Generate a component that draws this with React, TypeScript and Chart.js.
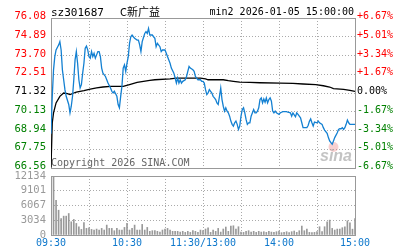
import React, { useEffect, useRef } from 'react';
import { Chart, registerables } from 'chart.js';
Chart.register(...registerables);

// ---- text ----
const stockCode = 'sz301687';
const stockName = 'C新广益';
const chartInfo = 'min2 2026-01-05 15:00:00';
const copyright = 'Copyright 2026 SINA.COM';
const logoText = 'sina';

// ---- axes ----
const prevClose = 71.32;
const priceMin = 66.56;
const priceMax = 76.08;
const priceTicks = [66.56, 67.75, 68.94, 70.13, 71.32, 72.51, 73.7, 74.89, 76.08];
const pctLabels = ['-6.67%', '-5.01%', '-3.34%', '-1.67%', '0.00%', '+1.67%', '+3.34%', '+5.01%', '+6.67%'];
const volTicks = [0, 3034, 6067, 9101, 12134];
const volMax = 12134;
const timeTickMinutes = [0, 30, 60, 90, 120, 150, 180, 210, 240];
const timeLabels = ['09:30', '', '10:30', '', '11:30/13:00', '', '14:00', '', '15:00'];

// ---- price series (minute offset from 09:30, price) ----
const priceMinutes = [
  0, 1, 2, 3, 4, 6, 7, 8, 9, 10, 11, 12, 14, 15, 16, 17, 18, 19, 20, 21, 22, 23, 24, 25, 26, 27, 28, 29, 30,
  31, 32, 33, 34, 35, 36, 37, 38, 39, 40, 41, 43, 44, 45, 47, 48, 49, 50, 52, 53, 54, 55, 56, 57, 58, 59, 60,
  61, 62, 63, 64, 65, 66, 68, 69, 70, 71, 72, 74, 75, 76, 77, 78, 80, 81, 82, 83, 84, 86, 87, 88, 90, 91, 93,
  94, 95, 97, 98, 99, 100, 101, 102, 103, 104, 106, 107, 108, 109, 110, 112, 113, 114, 115, 116, 118, 119, 120,
  121, 122, 123, 124, 125, 127, 128, 129, 130, 131, 132, 133, 134, 135, 136, 137, 138, 139, 140, 141, 142, 143,
  144, 145, 146, 147, 148, 149, 150, 151, 152, 153, 154, 155, 156, 157, 158, 160, 161, 162, 163, 164, 165, 166,
  167, 168, 169, 170, 171, 172, 173, 174, 175, 176, 177, 178, 180, 181, 182, 183, 185, 186, 187, 189, 190, 191,
  193, 194, 195, 197, 198, 199, 200, 202, 203, 204, 205, 206, 207, 208, 210, 211, 212, 214, 215, 216, 218, 219,
  220, 221, 222, 223, 224, 226, 227, 228, 229, 230, 231, 232, 233, 234, 235, 236, 237, 239, 240,
];
const prices = [
  68.74, 71.11, 72.79, 73.63, 74.05, 74.36, 74.58, 74.05, 72.79, 72.16, 71.53, 71.11, 70.59, 70.06, 70.48, 71.11,
  72.16, 73.42, 73.95, 73.21, 72.16, 71.64, 71.85, 72.58, 73.21, 74.16, 74.3, 74.05, 73.63,
  73.53, 73.95, 73.63, 73.84, 73.53, 73.74, 73.95, 73.95, 73.63, 72.9, 72.58, 72.37, 72.16, 71.95, 71.64, 71.43,
  71.32, 71.43, 71.11, 70.59, 70.38, 71.11, 71.74, 72.9, 73.11, 72.69, 73.21,
  73.63, 74.47, 74.89, 75.0, 74.89, 74.79, 74.68, 74.68, 74.37, 73.95, 74.58, 75.1, 75.21, 75.1, 75.42, 75.0,
  75.0, 74.89, 74.79, 74.26, 74.47, 74.26, 73.95, 74.05, 74.05, 73.84, 73.42,
  73.21, 72.9, 72.58, 72.27, 71.95, 72.27, 71.95, 72.16, 71.95, 72.06, 72.16, 72.37, 72.69, 73.0, 72.9, 72.79,
  72.69, 72.37, 72.27, 72.16, 72.16, 72.06, 72.06,
  71.95, 71.53, 71.22, 71.32, 71.53, 71.32, 71.11, 71.01, 70.9, 70.69, 70.59, 71.11, 71.64, 70.9, 70.48, 70.17,
  70.38, 70.17, 70.06, 69.85, 69.54, 69.33,
  69.22, 69.43, 69.54, 69.33, 69.01, 69.22, 69.85, 70.27, 70.38, 70.06, 69.64, 69.33, 69.43, 69.43, 69.85, 70.27,
  70.06, 70.06, 70.17, 70.38, 70.9, 71.01,
  70.69, 70.94, 70.73, 71.01, 70.69, 70.9, 71.01, 70.8, 70.17, 70.06, 70.17, 70.06, 69.96, 70.06, 70.1, 70.14,
  70.14, 70.14, 70.1, 70.06, 69.85, 70.06,
  69.81, 70.06, 69.96, 69.75, 69.43, 69.12, 69.12, 69.12, 69.26, 69.52, 69.68, 69.43, 69.22, 69.47, 69.43, 69.54,
  69.43, 69.33, 69.12, 68.97, 68.76, 68.49,
  68.28, 68.17, 68.07, 68.28, 68.49, 68.8, 69.01, 69.05, 69.05, 69.12, 69.01, 69.12, 69.33, 69.6, 69.43, 69.33,
  69.33, 69.33, 69.33,
];

// ---- average price series ----
const avgMinutes = [
  0, 1, 2, 4, 7, 10, 13, 15, 18, 20, 26, 31, 36, 41, 47, 52, 57, 62, 68, 73, 78, 82, 94, 99, 118, 122, 124, 136,
  140, 144, 149, 157, 165, 181, 191, 199, 209, 215, 220, 223, 231, 236, 240,
];
const avgPrices = [
  66.6, 69.43, 70.06, 70.69, 71.11, 71.32, 71.28, 71.22, 71.32, 71.38, 71.47, 71.57, 71.64, 71.7, 71.74, 71.74,
  71.74, 71.85, 71.99, 72.06, 72.12, 72.16, 72.22, 72.27, 72.27, 72.22, 72.16, 72.16,
  72.1, 72.06, 72.01, 71.99, 71.97, 71.95, 71.93, 71.89, 71.85, 71.78, 71.7, 71.6, 71.55, 71.49, 71.42,
];

// ---- volume (one bar per 2 minutes) ----
const volumes = [
  10500, 12134, 7140, 5100, 3400, 3880, 3880, 4420, 2720, 3200, 2380, 1700, 1150, 2580, 1360, 1500, 1150, 1020,
  1220, 1020, 1360, 1020, 2040, 1360, 1360, 880, 1360, 1020, 1020, 1560, 2380, 1020, 1360, 2040, 1020, 1020,
  2180, 1020, 1560, 750, 890, 890, 750, 600, 1020, 1230, 1360, 1020, 750, 750, 750, 600, 750, 540, 750, 540,
  890, 750, 540, 1020, 890, 1230, 1500, 540, 1020, 750, 1360, 600, 1230, 1640, 750, 1850, 1900, 1230, 1700,
  600, 540, 750, 890, 600, 750, 540, 750, 600, 680, 540, 750, 600, 540, 680, 820, 480, 540, 680, 480, 680, 820,
  540, 880, 1840, 880, 1220, 540, 480, 540, 680, 1700, 680, 1700, 2720, 3060, 1360, 1020, 1220, 1220, 1500,
  1700, 2920, 2520, 1200, 3400,
];
const volumeMinutes = volumes.map((_, i) => i * 2);

// ---- styles ----
const MONO = 'DejaVu Sans Mono';
const GRID = '#aaaaaa';
const FRAME = '#999999';
const RED = '#ff0000';
const GREEN = '#008000';
const BLUE_LINE = '#1380d2';
const TIME_BLUE = '#0e78cc';
const VOL_GRAY = '#999999';

const colorFor = (v: number) =>
  Math.abs(v - prevClose) < 1e-6 ? '#000000' : v > prevClose ? RED : GREEN;

const framePlugin = {
  id: 'frame',
  beforeDatasetsDraw(chart: any) {
    const { ctx, chartArea: a } = chart;
    ctx.save();
    ctx.strokeStyle = FRAME;
    ctx.lineWidth = 1;
    ctx.strokeRect(a.left + 0.5, a.top + 0.5, a.right - a.left, a.bottom - a.top);
    ctx.restore();
  },
};

const decorPlugin = {
  id: 'decor',
  beforeDatasetsDraw(chart: any) {
    const { ctx, chartArea: a } = chart;
    ctx.save();
    ctx.font = `10px "${MONO}"`;
    ctx.fillStyle = '#666666';
    ctx.textAlign = 'left';
    ctx.textBaseline = 'alphabetic';
    ctx.fillText(copyright, a.left, a.bottom - 2);
    ctx.fillStyle = 'rgba(235,120,120,0.35)';
    ctx.beginPath();
    ctx.arc(a.right - 21.5, a.bottom - 21, 5, 0, Math.PI * 2);
    ctx.fill();
    ctx.font = 'italic bold 16px "Liberation Sans"';
    ctx.fillStyle = 'rgba(170,170,170,0.7)';
    ctx.fillText(logoText, a.right - 35, a.bottom - 7);
    ctx.restore();
  },
  afterDraw(chart: any) {
    const { ctx, chartArea: a } = chart;
    ctx.save();
    ctx.fillStyle = '#000000';
    ctx.textBaseline = 'alphabetic';
    ctx.textAlign = 'left';
    ctx.font = `11px "${MONO}"`;
    ctx.fillText(stockCode, a.left, a.top - 2);
    ctx.font = '11px "Noto Sans CJK SC"';
    ctx.fillText(stockName, a.left + 69, a.top - 2);
    ctx.textAlign = 'right';
    ctx.font = `10px "${MONO}"`;
    ctx.fillText(chartInfo, a.right - 1, a.top - 3);
    ctx.restore();
  },
};

export default function App() {
  const mainRef = useRef<HTMLCanvasElement>(null);
  const volRef = useRef<HTMLCanvasElement>(null);

  useEffect(() => {
    const priceTickObjs = () => priceTicks.map((v) => ({ value: v }));
    const timeTickObjs = () => timeTickMinutes.map((v) => ({ value: v }));

    const main = new Chart(mainRef.current as HTMLCanvasElement, {
      type: 'line',
      data: {
        datasets: [
          {
            data: priceMinutes.map((m, i) => ({ x: m, y: prices[i] })),
            borderColor: BLUE_LINE,
            borderWidth: 1.3,
            pointRadius: 0,
            tension: 0,
            fill: false,
          },
          {
            data: avgMinutes.map((m, i) => ({ x: m, y: avgPrices[i] })),
            borderColor: '#000000',
            borderWidth: 1.3,
            pointRadius: 0,
            tension: 0,
            fill: false,
          },
        ],
      },
      options: {
        animation: false,
        responsive: false,
        devicePixelRatio: 1,
        layout: { padding: { top: 18, bottom: 11, left: 0, right: 0 } },
        plugins: { legend: { display: false }, tooltip: { enabled: false }, title: { display: false } },
        scales: {
          x: {
            type: 'linear',
            min: 0,
            max: 240,
            afterBuildTicks: (s: any) => {
              s.ticks = timeTickObjs();
            },
            ticks: { display: false },
            grid: { color: GRID, drawTicks: false, lineWidth: 1 },
            border: { display: false, dash: [1, 2] },
            afterFit: (s: any) => {
              s.height = 0;
            },
          },
          y: {
            position: 'left',
            min: priceMin,
            max: priceMax,
            afterBuildTicks: (s: any) => {
              s.ticks = priceTickObjs();
            },
            ticks: {
              autoSkip: false,
              font: { family: MONO, size: 10.5, lineHeight: 1 },
              padding: 5,
              labelOffset: -1.5,
              color: (c: any) => colorFor(c.tick ? c.tick.value : prevClose),
              callback: (v: any) => Number(v).toFixed(2),
            },
            grid: { color: GRID, drawTicks: false, lineWidth: 1 },
            border: { display: false, dash: [1, 2] },
            afterFit: (s: any) => {
              s.width = 51;
            },
          },
          yR: {
            position: 'right',
            min: priceMin,
            max: priceMax,
            afterBuildTicks: (s: any) => {
              s.ticks = priceTickObjs();
            },
            ticks: {
              autoSkip: false,
              font: { family: MONO, size: 10, lineHeight: 1 },
              padding: 2,
              labelOffset: -1.5,
              color: (c: any) => colorFor(c.tick ? c.tick.value : prevClose),
              callback: (_v: any, i: number) => pctLabels[i],
            },
            grid: { display: false, drawTicks: false },
            border: { display: false },
            afterFit: (s: any) => {
              s.width = 52;
            },
          },
        },
      },
      plugins: [framePlugin, decorPlugin],
    } as any);

    const vol = new Chart(volRef.current as HTMLCanvasElement, {
      type: 'bar',
      data: {
        datasets: [
          {
            data: volumes.map((v, i) => ({ x: volumeMinutes[i], y: v })),
            backgroundColor: VOL_GRAY,
            borderWidth: 0,
            barThickness: 1,
            grouped: false,
          },
        ],
      },
      options: {
        animation: false,
        responsive: false,
        devicePixelRatio: 1,
        layout: { padding: { top: 11, bottom: 0, left: 0, right: 52 } },
        plugins: { legend: { display: false }, tooltip: { enabled: false } },
        scales: {
          x: {
            type: 'linear',
            min: 0,
            max: 240,
            offset: false,
            afterBuildTicks: (s: any) => {
              s.ticks = timeTickObjs();
            },
            ticks: {
              autoSkip: false,
              maxRotation: 0,
              minRotation: 0,
              font: { family: MONO, size: 10, lineHeight: 1 },
              color: TIME_BLUE,
              padding: 3,
              callback: (_v: any, i: number) => timeLabels[i],
            },
            grid: { color: GRID, drawTicks: false, offset: false, lineWidth: 1 },
            border: { display: false, dash: [1, 2] },
            afterFit: (s: any) => {
              s.height = 15;
            },
          },
          y: {
            min: 0,
            max: volMax,
            afterBuildTicks: (s: any) => {
              s.ticks = volTicks.map((v) => ({ value: v }));
            },
            ticks: {
              autoSkip: false,
              font: { family: MONO, size: 10.5, lineHeight: 1 },
              color: VOL_GRAY,
              padding: 5,
              callback: (v: any) => String(v),
            },
            grid: { color: GRID, drawTicks: false, lineWidth: 1 },
            border: { display: false, dash: [1, 2] },
            afterFit: (s: any) => {
              s.width = 51;
            },
          },
        },
      },
      plugins: [framePlugin],
    } as any);

    return () => {
      main.destroy();
      vol.destroy();
    };
  }, []);

  return (
    <div style={{ position: 'absolute', left: 0, top: 0, width: 407, height: 250, background: '#ffffff' }}>
      <canvas ref={mainRef} width={407} height={179} style={{ position: 'absolute', left: 0, top: 0 }} />
      <canvas ref={volRef} width={407} height={85} style={{ position: 'absolute', left: 0, top: 165 }} />
    </div>
  );
}
